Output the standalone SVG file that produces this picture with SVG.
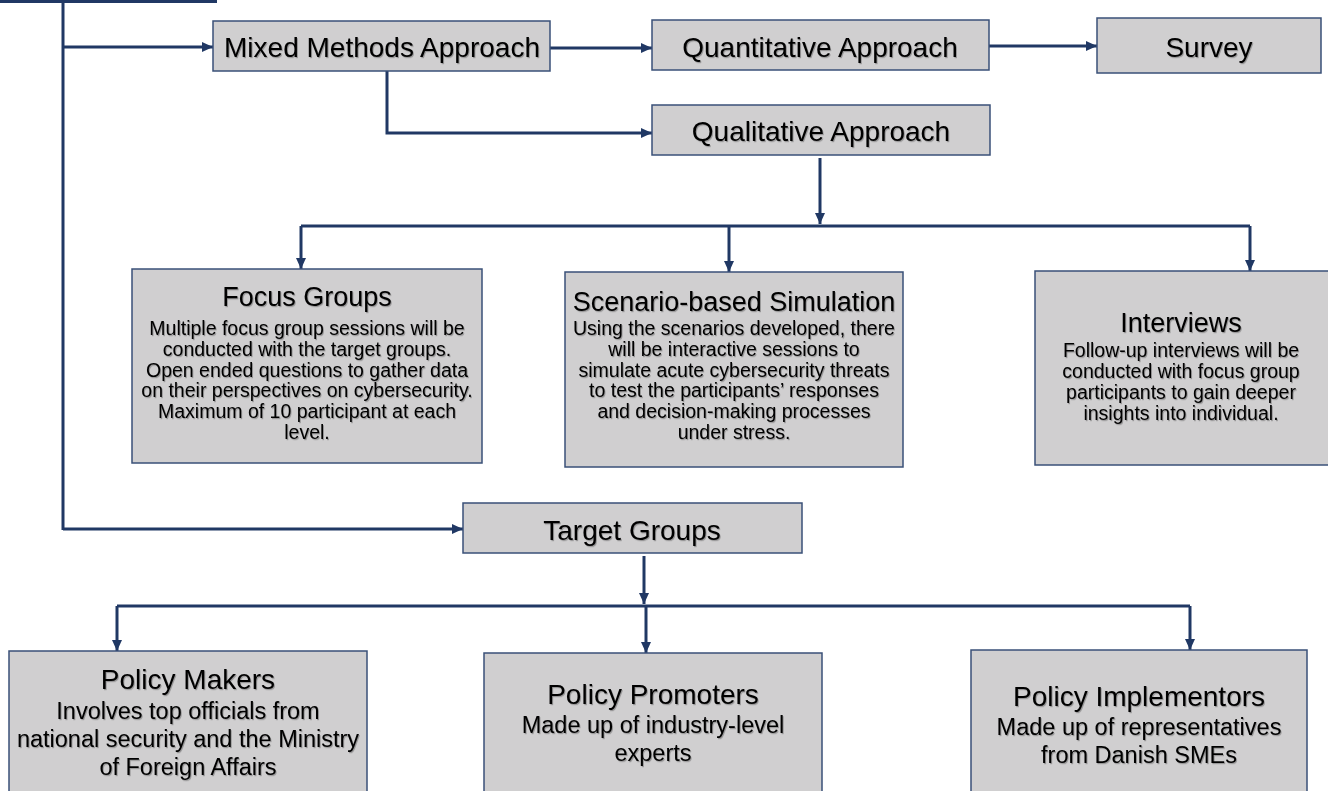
<svg xmlns="http://www.w3.org/2000/svg" width="1328" height="791" viewBox="0 0 1328 791">
<defs>
<marker id="ah" markerUnits="userSpaceOnUse" markerWidth="12" markerHeight="12" viewBox="0 0 12 12" refX="11" refY="6" orient="auto">
<path d="M0,1 L11,6 L0,11 Z" fill="#203864"/>
</marker>
<filter id="sh" x="-5%" y="-20%" width="110%" height="140%">
<feDropShadow dx="1" dy="1.2" stdDeviation="0.7" flood-color="#000" flood-opacity="0.28"/>
</filter>
</defs>
<style>
.box{fill:#d0cfd0;stroke:#3a5078;stroke-width:1.5}
.c{fill:none;stroke:#203864;stroke-width:3}
.ca{fill:none;stroke:#203864;stroke-width:3;marker-end:url(#ah)}
text{font-family:"Liberation Sans",Arial,sans-serif;fill:#000;text-anchor:middle;filter:url(#sh)}
.l{font-size:28px}
.t{font-size:27px}
.b{font-size:19.5px}
.bt{font-size:28px}
.bb{font-size:23.5px}
</style>
<rect width="1328" height="791" fill="#fff"/>
<g id="connectors">
<path class="c" d="M0,1.5 H217"/>
<path class="c" d="M63,0 V530"/>
<path class="ca" d="M63,47 H213"/>
<path class="ca" d="M550,48 H652"/>
<path class="ca" d="M989,46 H1097"/>
<path class="ca" d="M387,71 V133 H652"/>
<path class="ca" d="M820,158 V224"/>
<path class="c" d="M301,226 H1250"/>
<path class="ca" d="M301,226 V269"/>
<path class="ca" d="M729,226 V272"/>
<path class="ca" d="M1250,226 V271"/>
<path class="ca" d="M63,529 H463"/>
<path class="ca" d="M644,556 V604"/>
<path class="c" d="M117,606 H1190"/>
<path class="ca" d="M117,606 V651"/>
<path class="ca" d="M646,606 V653"/>
<path class="ca" d="M1190,606 V650"/>
</g>
<g id="mixed"><rect class="box" x="213" y="21" width="337" height="50"/><text class="l" x="382" y="57">Mixed Methods Approach</text></g>
<g id="quant"><rect class="box" x="652" y="20" width="337" height="50"/><text class="l" x="820" y="57">Quantitative Approach</text></g>
<g id="survey"><rect class="box" x="1097" y="18" width="224" height="55"/><text class="l" x="1209" y="57">Survey</text></g>
<g id="qual"><rect class="box" x="652" y="105" width="338" height="50"/><text class="l" x="821" y="141">Qualitative Approach</text></g>
<g id="focus"><rect class="box" x="132" y="269" width="350" height="194"/>
<text class="t" x="307" y="306">Focus Groups</text>
<text class="b" x="307" y="335">Multiple focus group sessions will be</text>
<text class="b" x="307" y="356">conducted with the target groups.</text>
<text class="b" x="307" y="377">Open ended questions to gather data</text>
<text class="b" x="307" y="397">on their perspectives on cybersecurity.</text>
<text class="b" x="307" y="418">Maximum of 10 participant at each</text>
<text class="b" x="307" y="439">level.</text>
</g>
<g id="scenario"><rect class="box" x="565" y="272" width="338" height="195"/>
<text class="t" x="734" y="311">Scenario-based Simulation</text>
<text class="b" x="734" y="335">Using the scenarios developed, there</text>
<text class="b" x="734" y="356">will be interactive sessions to</text>
<text class="b" x="734" y="377">simulate acute cybersecurity threats</text>
<text class="b" x="734" y="397">to test the participants’ responses</text>
<text class="b" x="734" y="418">and decision-making processes</text>
<text class="b" x="734" y="439">under stress.</text>
</g>
<g id="interviews"><rect class="box" x="1035" y="271" width="300" height="194"/>
<text class="t" x="1181" y="332">Interviews</text>
<text class="b" x="1181" y="357">Follow-up interviews will be</text>
<text class="b" x="1181" y="378">conducted with focus group</text>
<text class="b" x="1181" y="399">participants to gain deeper</text>
<text class="b" x="1181" y="420">insights into individual.</text>
</g>
<g id="target"><rect class="box" x="463" y="503" width="339" height="50"/><text class="l" x="632" y="540">Target Groups</text></g>
<g id="makers"><rect class="box" x="9" y="651" width="358" height="145"/>
<text class="bt" x="188" y="689">Policy Makers</text>
<text class="bb" x="188" y="719">Involves top officials from</text>
<text class="bb" x="188" y="747">national security and the Ministry</text>
<text class="bb" x="188" y="775">of Foreign Affairs</text>
</g>
<g id="promoters"><rect class="box" x="484" y="653" width="338" height="143"/>
<text class="bt" x="653" y="704">Policy Promoters</text>
<text class="bb" x="653" y="733">Made up of industry-level</text>
<text class="bb" x="653" y="761">experts</text>
</g>
<g id="implementors"><rect class="box" x="971" y="650" width="336" height="146"/>
<text class="bt" x="1139" y="706">Policy Implementors</text>
<text class="bb" x="1139" y="735">Made up of representatives</text>
<text class="bb" x="1139" y="763">from Danish SMEs</text>
</g>
</svg>
